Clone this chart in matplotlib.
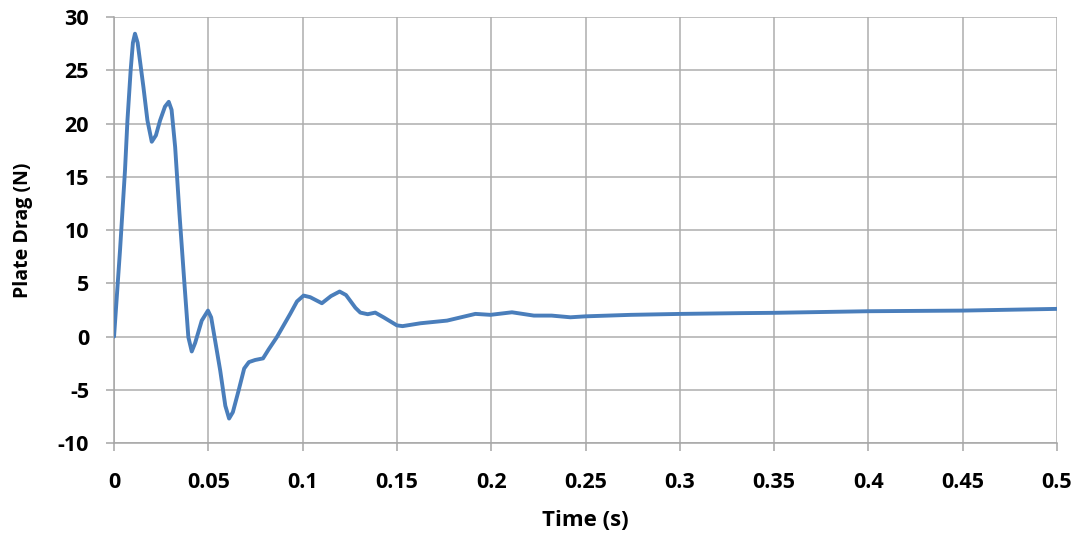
import numpy as np
import matplotlib.pyplot as plt

# values
time_s = [0.0, 0.0032, 0.0058, 0.0071, 0.0088, 0.0100, 0.0111, 0.0125, 0.0156,
          0.0177, 0.0200, 0.0222, 0.0244, 0.0270, 0.0290, 0.0305, 0.0324, 0.0347,
          0.0372, 0.0394, 0.0412, 0.0430, 0.0465, 0.0498, 0.0515, 0.0540, 0.0563,
          0.0590, 0.0610, 0.0630, 0.0660, 0.0690, 0.0715, 0.0748, 0.0790, 0.0820,
          0.0863, 0.0934, 0.0970, 0.1005, 0.1040, 0.1102, 0.1150, 0.1196, 0.1230,
          0.1280, 0.1306, 0.1345, 0.1385, 0.1430, 0.1500, 0.1530, 0.1625, 0.1766,
          0.1916, 0.1996, 0.2110, 0.2226, 0.2320, 0.2420, 0.2500, 0.2740, 0.3010,
          0.3320, 0.3500, 0.4000, 0.4500, 0.5000]
drag_n = [0.0, 8.2, 15.6, 20.3, 25.0, 27.6, 28.45, 27.6, 23.4,
          20.3, 18.3, 18.9, 20.3, 21.6, 22.05, 21.3, 17.8, 11.5,
          5.26, -0.06, -1.4, -0.6, 1.5, 2.44, 1.8, -0.8, -3.2,
          -6.5, -7.7, -7.1, -5.1, -3.0, -2.4, -2.2, -2.05, -1.2,
          -0.06, 2.13, 3.3, 3.85, 3.7, 3.13, 3.8, 4.23, 3.9,
          2.7, 2.25, 2.1, 2.25, 1.8, 1.05, 0.98, 1.25, 1.5,
          2.13, 2.04, 2.28, 1.97, 1.97, 1.81, 1.9, 2.04, 2.13,
          2.2, 2.23, 2.38, 2.44, 2.6]

x_ticks = np.arange(0, 0.5001, 0.05)
y_ticks = np.arange(-10, 31, 5)

plt.rcParams['font.family'] = ['Open Sans', 'DejaVu Sans']

fig = plt.figure(figsize=(10.79, 5.37), dpi=100)
ax = fig.add_subplot(111)
fig.subplots_adjust(left=0.1057, right=0.9796, top=0.968, bottom=0.175)

ax.plot(time_s, drag_n, color="#4a7ebb", linewidth=2.8, solid_joinstyle="round",
        solid_capstyle="round", zorder=3)

ax.set_xlim(0, 0.5)
ax.set_ylim(-10, 30)
ax.set_xticks(x_ticks)
ax.set_yticks(y_ticks)
ax.set_xticklabels([f"{t:g}" for t in np.round(x_ticks, 2)])
ax.set_yticklabels([f"{v:d}" for v in y_ticks])

ax.grid(True, color="#adadad", linewidth=1.1)
ax.set_axisbelow(True)
for side in ["top", "right"]:
    ax.spines[side].set_visible(False)
for side in ["left", "bottom"]:
    ax.spines[side].set_color("#a6a6a6")
    ax.spines[side].set_linewidth(1.1)

ax.tick_params(axis="both", direction="out", length=6, width=1.1, color="#a6a6a6",
               labelsize=15.5)
for lbl in ax.get_xticklabels() + ax.get_yticklabels():
    lbl.set_fontweight("bold")
ax.tick_params(axis="x", pad=15)
ax.tick_params(axis="y", pad=12)

ax.set_xlabel("Time (s)", fontsize=16, fontweight="bold", labelpad=12)
ax.set_ylabel("Plate Drag (N)", fontsize=14, fontweight="bold", labelpad=18)

fig.savefig("out.png", dpi=100)
